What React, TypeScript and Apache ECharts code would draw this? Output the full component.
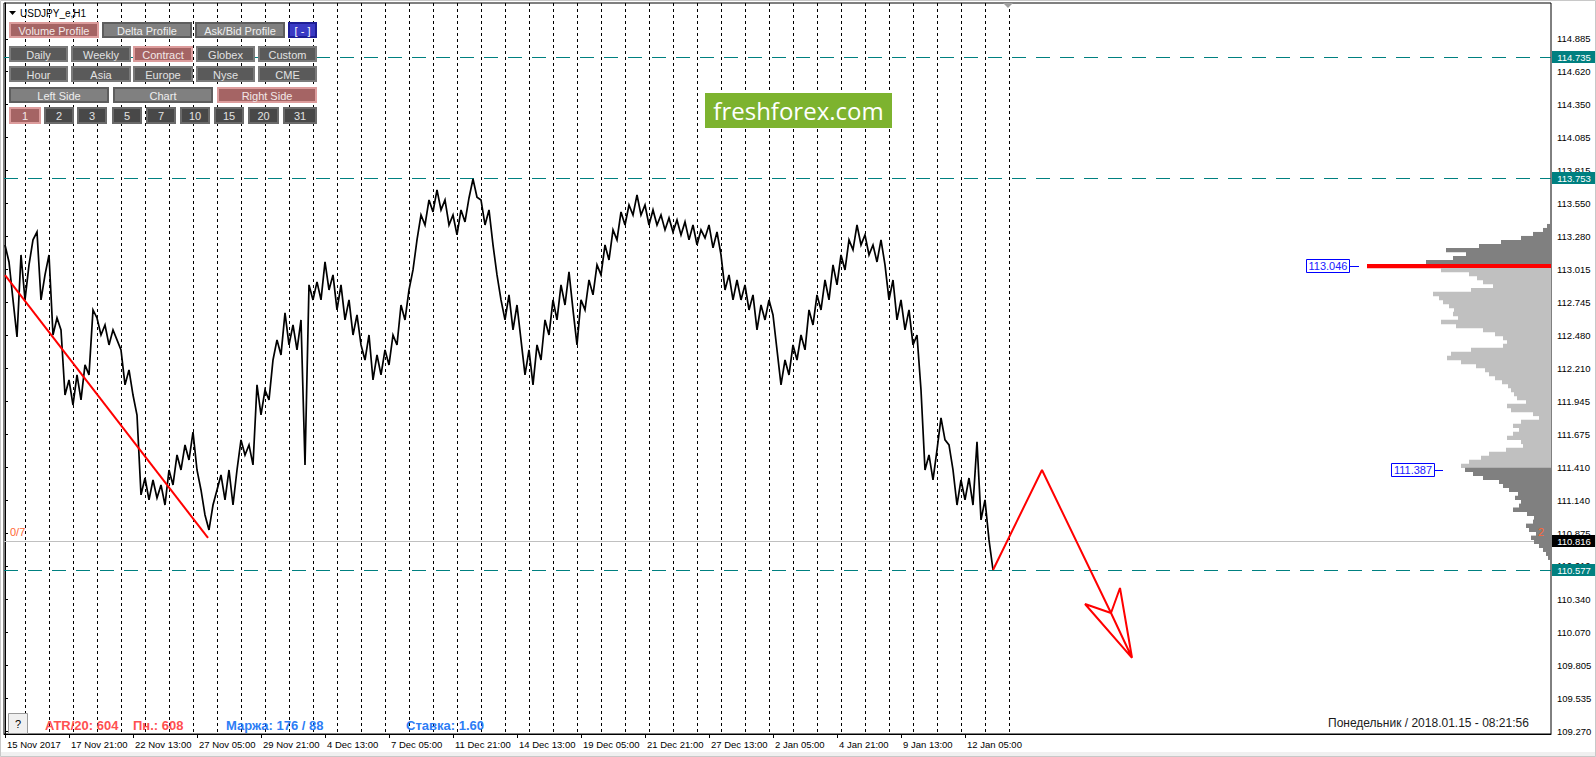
import React, { useEffect, useRef } from 'react';
import * as echarts from 'echarts';

const AXIS_FONT = '"Liberation Sans", Arial, sans-serif';
const AXIS_SIZE = 9.5;
const UI_FONT = '"Liberation Sans", Arial, sans-serif';

// ---------- DATA ----------
const symbolTitle = 'USDJPY_e,H1';
const xTickLabels = ['15 Nov 2017', '17 Nov 21:00', '22 Nov 13:00', '27 Nov 05:00', '29 Nov 21:00', '4 Dec 13:00', '7 Dec 05:00', '11 Dec 21:00', '14 Dec 13:00', '19 Dec 05:00', '21 Dec 21:00', '27 Dec 13:00', '2 Jan 05:00', '4 Jan 21:00', '9 Jan 13:00', '12 Jan 05:00'];
const barsPerLabel = 64;
const yTickValues = [114.885, 114.62, 114.35, 114.085, 113.815, 113.55, 113.28, 113.015, 112.745, 112.48, 112.21, 111.945, 111.675, 111.41, 111.14, 110.875, 110.61, 110.34, 110.07, 109.805, 109.535, 109.27];
const priceMin = 109.247;
const priceMax = 115.175;
const totalBars = 1547;

// price samples, one every 4 H1 bars
const sampleStep = 4;
const priceData = [
  113.213, 113.075, 112.767, 112.467, 113.132, 112.767, 113.051, 113.254, 113.318, 112.767,
  112.970, 113.132, 112.483, 112.621, 112.524, 111.996, 112.118, 111.915, 112.159, 111.956,
  112.240, 112.159, 112.686, 112.621, 112.483, 112.564, 112.402, 112.524, 112.443, 112.362,
  112.078, 112.199, 111.996, 111.834, 111.186, 111.323, 111.145, 111.307, 111.161, 111.267,
  111.104, 111.388, 111.267, 111.510, 111.388, 111.591, 111.469, 111.696, 111.388, 111.226,
  111.023, 110.902, 111.104, 111.226, 111.348, 111.145, 111.388, 111.104, 111.388, 111.632,
  111.510, 111.591, 111.429, 112.078, 111.834, 112.037, 111.956, 112.280, 112.443, 112.321,
  112.662, 112.402, 112.564, 112.362, 112.605, 111.429, 112.889, 112.767, 112.913, 112.767,
  113.075, 112.848, 112.970, 112.686, 112.889, 112.605, 112.767, 112.483, 112.645, 112.402,
  112.280, 112.483, 112.118, 112.321, 112.159, 112.362, 112.240, 112.483, 112.402, 112.726,
  112.605, 112.848, 113.010, 113.254, 113.456, 113.375, 113.578, 113.481, 113.659, 113.497,
  113.578, 113.375, 113.456, 113.294, 113.497, 113.400, 113.594, 113.748, 113.600, 113.578,
  113.375, 113.497, 113.213, 112.970, 112.767, 112.605, 112.808, 112.524, 112.726, 112.443,
  112.159, 112.362, 112.078, 112.402, 112.280, 112.605, 112.483, 112.767, 112.605, 112.889,
  112.726, 112.994, 112.686, 112.402, 112.767, 112.686, 112.929, 112.808, 113.051, 112.970,
  113.213, 113.091, 113.335, 113.254, 113.481, 113.375, 113.537, 113.456, 113.619, 113.456,
  113.537, 113.375, 113.497, 113.375, 113.456, 113.335, 113.432, 113.318, 113.416, 113.294,
  113.400, 113.254, 113.375, 113.213, 113.335, 113.270, 113.375, 113.189, 113.318, 113.132,
  112.848, 112.970, 112.767, 112.929, 112.767, 112.889, 112.686, 112.808, 112.524, 112.726,
  112.605, 112.767, 112.645, 112.362, 112.078, 112.280, 112.159, 112.402, 112.280, 112.483,
  112.362, 112.686, 112.564, 112.808, 112.686, 112.929, 112.767, 113.051, 112.889, 113.132,
  113.010, 113.254, 113.173, 113.375, 113.213, 113.294, 113.132, 113.213, 113.075, 113.254,
  113.051, 112.767, 112.929, 112.605, 112.767, 112.524, 112.686, 112.402, 112.483, 112.037,
  111.388, 111.510, 111.307, 111.551, 111.810, 111.632, 111.591, 111.388, 111.104, 111.307,
  111.145, 111.323, 111.104, 111.616, 110.983, 111.145, 110.821, 110.577,
];

// daily period separators (bar index)
const separatorBars = [20, 44, 68, 92, 116, 140, 164, 188, 212, 236, 260, 284, 308, 332, 356, 380, 404, 428, 452, 476, 500, 524, 548, 572, 596, 620, 644, 668, 692, 716, 740, 764, 788, 812, 836, 860, 884, 908, 932, 956, 980, 1004];

const levelPrices = [114.735, 113.753, 110.577];
const bidPrice = 110.816;

const trendLine = [[0, 112.969], [203, 110.837]];
const forecastPath = [[988, 110.577], [1037, 111.388], [1106, 110.228]];
const arrowHead = [[1106, 110.228], [1080, 110.301], [1127, 109.865], [1115, 110.431], [1106, 110.228], [1127, 109.865]];

// volume profile: bins from top price downwards
const profileTop = 113.367;
const profileStep = 0.0324;
const profileVolumes = [
  4, 8, 18, 30, 50, 72, 105, 85, 98, 125,
  184, 110, 82, 74, 68, 58, 80, 118, 112, 108,
  102, 97, 98, 93, 110, 95, 68, 56, 48, 44,
  48, 80, 100, 104, 90, 75, 66, 62, 56, 49,
  43, 40, 37, 34, 25, 44, 40, 18, 12, 30,
  38, 32, 38, 44, 30, 28, 45, 62, 70, 82,
  90, 86, 78, 68, 52, 48, 42, 33, 36, 30,
  32, 38, 24, 17, 18, 25, 22, 15, 20, 17,
  12, 8, 5, 3,
];
const pocPrice = 113.046;
const valueAreaLow = 111.387;

const infoAtr = 'ATR/20: 604';
const infoPn = 'Пн.: 608';
const infoMargin = 'Маржа: 176 / 88';
const infoRate = 'Ставка: 1.60';
const infoTime = 'Понедельник / 2018.01.15 - 08:21:56';

const buttonRows = [
  ['Volume Profile', 'Delta Profile', 'Ask/Bid Profile', '[ - ]'],
  ['Daily', 'Weekly', 'Contract', 'Globex', 'Custom'],
  ['Hour', 'Asia', 'Europe', 'Nyse', 'CME'],
  ['Left Side', 'Chart', 'Right Side'],
  ['1', '2', '3', '5', '7', '10', '15', '20', '31'],
];
const activeButtons = ['Volume Profile', 'Contract', 'Right Side', '1'];

// ---------- LAYOUT (pixels) ----------
const rowGeom = [
  { y: 22, h: 16, cells: [[9, 90], [102, 90], [195, 90], [288, 29]], kinds: ['rose', 'mid', 'mid', 'blue'] },
  { y: 46, h: 16, cells: [[9, 59], [71, 60], [133, 60], [196, 59], [258, 59]], kinds: ['dark', 'dark', 'dark', 'dark', 'dark'] },
  { y: 66, h: 16, cells: [[9, 59], [71, 60], [133, 60], [196, 59], [258, 59]], kinds: ['dark', 'dark', 'dark', 'dark', 'dark'] },
  { y: 87, h: 16, cells: [[9, 100], [113, 100], [217, 100]], kinds: ['mid', 'mid', 'mid'] },
  { y: 107, h: 17, cells: [[9, 32], [44, 30], [77, 30], [112, 30], [146, 30], [180, 30], [214, 30], [248, 31], [283, 34]], kinds: ['darker', 'darker', 'darker', 'darker', 'darker', 'darker', 'darker', 'darker', 'darker'] },
];
const kindStyle: Record<string, { fill: string; stroke: string; text: string }> = {
  rose: { fill: '#a56464', stroke: '#dc9c9c', text: '#f3e8e8' },
  mid: { fill: '#808080', stroke: '#5e5e5e', text: '#eeeeee' },
  dark: { fill: '#5a5a5a', stroke: '#7a7a7a', text: '#e2e2e2' },
  darker: { fill: '#484848', stroke: '#6a6a6a', text: '#e2e2e2' },
  blue: { fill: '#3a3ac4', stroke: '#1e1e96', text: '#ffffff' },
};

function txt(text: string, x: number, y: number, o: any = {}) {
  return {
    type: 'text',
    x,
    y,
    z: 100,
    silent: true,
    style: {
      text,
      fill: o.fill || '#000',
      fontSize: o.size || 11,
      fontFamily: o.family || UI_FONT,
      fontWeight: o.weight || 'normal',
      align: o.align || 'left',
      textAlign: o.align || 'left',
      verticalAlign: 'middle',
      textVerticalAlign: 'middle',
    },
  };
}

function buildOption() {
  const xTickValues = xTickLabels.map((_, i) => i * barsPerLabel);
  const pricePoints = priceData.map((v, i) => [i * sampleStep, v]);
  const profileData = profileVolumes.map((v, i) => [v, +(profileTop - i * profileStep).toFixed(4)]);

  return {
    animation: false,
    backgroundColor: '#ffffff',
    grid: { left: 4, top: 3, right: 45, bottom: 23, show: true, borderColor: '#000', borderWidth: 1, backgroundColor: '#ffffff' },
    xAxis: [
      {
        type: 'value',
        min: -1,
        max: totalBars - 1,
        axisLine: { show: true, onZero: false, lineStyle: { color: '#000', width: 1 } },
        axisTick: { show: true, length: 4, customValues: xTickValues, lineStyle: { color: '#000' } },
        axisLabel: {
          customValues: xTickValues,
          formatter: (v: number) => xTickLabels[Math.round(v / barsPerLabel)] ?? '',
          align: 'left',
          margin: 5,
          padding: [0, 0, 0, 2],
          color: '#000',
          fontSize: AXIS_SIZE,
          fontFamily: AXIS_FONT,
        },
        splitLine: { show: false },
      },
      { type: 'value', min: 0, max: totalBars, inverse: true, show: false },
    ],
    yAxis: {
      type: 'value',
      position: 'right',
      min: priceMin,
      max: priceMax,
      axisLine: { show: true, lineStyle: { color: '#000' } },
      axisTick: { show: true, length: 3, customValues: yTickValues, lineStyle: { color: '#000' } },
      axisLabel: {
        customValues: yTickValues,
        formatter: (v: number) => v.toFixed(3),
        margin: 6,
        color: '#000',
        fontSize: AXIS_SIZE,
        fontFamily: AXIS_FONT,
      },
      splitLine: { show: false },
    },
    series: [
      {
        type: 'custom',
        name: 'separators',
        xAxisIndex: 0,
        yAxisIndex: 0,
        z: 1,
        silent: true,
        encode: { x: 0, y: 1 },
        data: separatorBars.map((b) => [b, 112]),
        renderItem: (params: any, api: any) => {
          const x = Math.round(api.coord([api.value(0), 112])[0]) + 0.5;
          const cs = params.coordSys;
          return { type: 'line', shape: { x1: x, y1: cs.y, x2: x, y2: cs.y + cs.height }, style: { stroke: '#000', lineWidth: 1, lineDash: [3, 3] } };
        },
      },
      {
        type: 'custom',
        name: 'levels',
        xAxisIndex: 0,
        yAxisIndex: 0,
        z: 2,
        silent: true,
        encode: { x: 0, y: 1 },
        data: [...levelPrices.map((p) => [0, p]), [0, bidPrice]],
        renderItem: (params: any, api: any) => {
          const y = Math.round(api.coord([0, api.value(1)])[1]) + 0.5;
          const cs = params.coordSys;
          const isBid = params.dataIndex === levelPrices.length;
          return {
            type: 'line',
            shape: { x1: cs.x, y1: y, x2: cs.x + cs.width, y2: y },
            style: isBid ? { stroke: '#c0c0c0', lineWidth: 1 } : { stroke: '#008080', lineWidth: 1, lineDash: [14, 10] },
          };
        },
      },
      {
        type: 'custom',
        name: 'profile',
        xAxisIndex: 1,
        yAxisIndex: 0,
        z: 3,
        silent: true,
        encode: { x: 0, y: 1 },
        data: profileData,
        renderItem: (params: any, api: any) => {
          const vol = api.value(0);
          const price = api.value(1);
          const p1 = api.coord([vol, price + profileStep / 2]);
          const p2 = api.coord([0, price - profileStep / 2]);
          let fill = '#c0c0c0';
          if (Math.abs(price - pocPrice) < profileStep / 2) fill = '#ff0000';
          else if (price > pocPrice || price < valueAreaLow + 0.02) fill = '#808080';
          return { type: 'rect', shape: { x: p1[0], y: p1[1], width: p2[0] - p1[0], height: p2[1] - p1[1] + 0.4 }, style: { fill } };
        },
      },
      {
        type: 'line',
        name: 'USDJPY',
        xAxisIndex: 0,
        yAxisIndex: 0,
        z: 4,
        data: pricePoints,
        showSymbol: false,
        symbol: 'none',
        lineStyle: { color: '#000', width: 1.7, join: 'miter', miterLimit: 4 },
      },
      {
        type: 'line',
        name: 'trend',
        z: 5,
        data: trendLine,
        symbol: 'none',
        lineStyle: { color: '#ff0000', width: 2 },
      },
      {
        type: 'line',
        name: 'forecast',
        z: 5,
        data: forecastPath,
        symbol: 'none',
        lineStyle: { color: '#ff0000', width: 2 },
      },
      {
        type: 'line',
        name: 'arrowhead',
        z: 5,
        data: arrowHead,
        symbol: 'none',
        lineStyle: { color: '#ff0000', width: 2 },
      },
    ],
  };
}

function buildGraphics(chart: any) {
  const yPx = (p: number) => chart.convertToPixel({ yAxisIndex: 0 }, p) as number;
  const els: any[] = [];

  // outer window frame
  els.push({ type: 'rect', z: 90, silent: true, shape: { x: 0, y: 752, width: 1596, height: 5 }, style: { fill: '#f0f0f0' } });
  els.push({ type: 'rect', z: 90, silent: true, shape: { x: 0.5, y: 0.5, width: 1595, height: 756 }, style: { fill: 'none', stroke: '#c8c8c8', lineWidth: 1 } });

  // title
  els.push({ type: 'polygon', z: 100, silent: true, shape: { points: [[9, 11], [16, 11], [12.5, 15]] }, style: { fill: '#000' } });
  els.push(txt(symbolTitle, 20, 13.5, { size: 10 }));

  // buttons
  buttonRows.forEach((row, r) => {
    const g = rowGeom[r];
    row.forEach((label, c) => {
      const [x, w] = g.cells[c];
      const kind = activeButtons.includes(label) ? 'rose' : g.kinds[c];
      const st = kindStyle[kind];
      els.push({ type: 'rect', z: 100, silent: true, shape: { x: x + 1, y: g.y + 1, width: w - 2, height: g.h - 2 }, style: { fill: st.fill, stroke: st.stroke, lineWidth: 2 } });
      els.push(txt(label, x + w / 2, g.y + g.h / 2 + 0.5, { fill: st.text, align: 'center', size: 11 }));
    });
  });

  // watermark logo
  els.push({ type: 'rect', z: 100, silent: true, shape: { x: 705, y: 93, width: 187, height: 35 }, style: { fill: '#7db32f' } });
  els.push(txt('freshforex.com', 798.5, 110.5, { fill: '#ffffff', align: 'center', size: 24, family: '"Open Sans", sans-serif' }));

  // small orange markers at bid level
  els.push(txt('0/7', 10, 532, { fill: '#ff6633', size: 11 }));
  els.push(txt('2', 1538, 532, { fill: '#ff6633', size: 11 }));

  // price badges on the axis
  const badge = (p: number, bg: string) => {
    const y = yPx(p);
    els.push({ type: 'rect', z: 110, silent: true, shape: { x: 1552, y: Math.round(y) - 6, width: 43, height: 12 }, style: { fill: bg } });
    els.push({ ...txt(p.toFixed(3), 1574, Math.round(y), { fill: '#ffffff', align: 'center', size: AXIS_SIZE, family: AXIS_FONT }), z: 111 });
  };
  levelPrices.forEach((p) => badge(p, '#008080'));
  badge(bidPrice, '#000000');

  // profile labels
  const blueLabel = (p: number, x: number, lineEnd: number) => {
    const y = Math.round(yPx(p));
    els.push({ type: 'rect', z: 100, silent: true, shape: { x: x + 0.5, y: y - 6.5, width: 43, height: 13 }, style: { fill: '#ffffff', stroke: '#0000ff', lineWidth: 1 } });
    els.push(txt(p.toFixed(3), x + 22, y, { fill: '#2020ff', align: 'center', size: 11 }));
    els.push({ type: 'line', z: 100, silent: true, shape: { x1: x + 43.5, y1: y + 0.5, x2: lineEnd, y2: y + 0.5 }, style: { stroke: '#0000ff', lineWidth: 1 } });
  };
  blueLabel(pocPrice, 1306, 1359);
  blueLabel(valueAreaLow, 1391, 1443);

  // chart shift marker
  els.push({ type: 'polygon', z: 100, silent: true, shape: { points: [[1003, 3], [1013, 3], [1008, 8]] }, style: { fill: '#a0a0a0' } });

  // bottom info
  els.push({ type: 'rect', z: 100, silent: true, shape: { x: 8.5, y: 713.5, width: 19, height: 20 }, style: { fill: '#f0f0f0', stroke: '#9a9a9a', lineWidth: 1 } });
  els.push(txt('?', 18, 723.5, { align: 'center', size: 11 }));
  els.push(txt(infoAtr, 45, 725, { fill: '#ff5050', size: 13, weight: 'bold' }));
  els.push(txt(infoPn, 133, 725, { fill: '#ff5050', size: 13, weight: 'bold' }));
  els.push(txt(infoMargin, 226, 725, { fill: '#2d7df5', size: 13, weight: 'bold' }));
  els.push(txt(infoRate, 406, 725, { fill: '#2d7df5', size: 13, weight: 'bold' }));
  els.push(txt(infoTime, 1328, 723, { fill: '#1a1a1a', size: 12 }));

  return els;
}

export default function App() {
  const ref = useRef<HTMLDivElement>(null);
  useEffect(() => {
    if (!ref.current) return;
    const chart = echarts.init(ref.current, null, { renderer: 'svg' });
    chart.setOption(buildOption() as any);
    chart.setOption({ graphic: { elements: buildGraphics(chart) } } as any);
    return () => chart.dispose();
  }, []);
  return <div ref={ref} style={{ position: 'absolute', left: 0, top: 0, width: 1596, height: 757, background: '#fff' }} />;
}
